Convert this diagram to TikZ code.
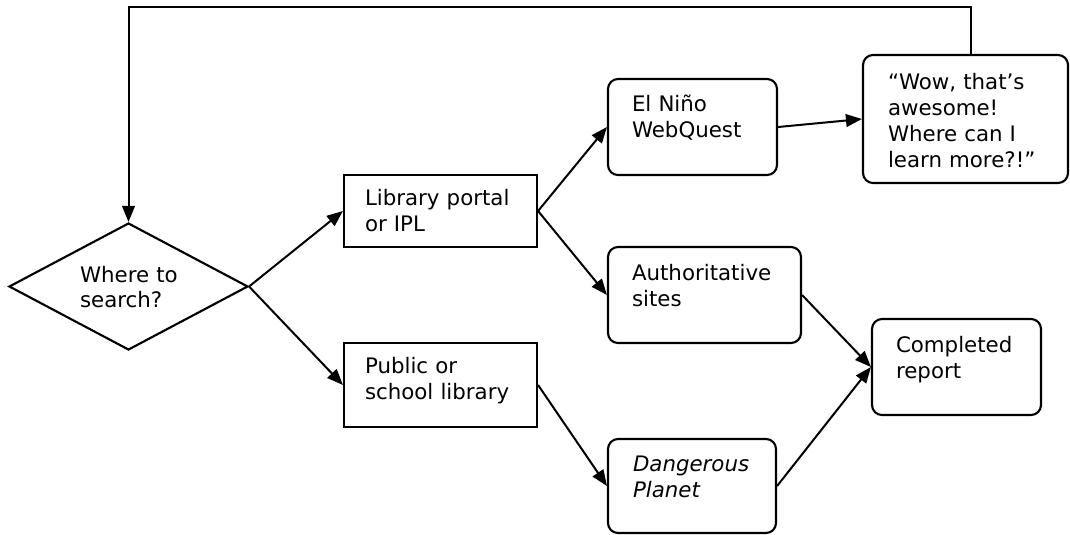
\documentclass[tikz,border=0pt]{standalone}
\usepackage{fontspec}
\setmainfont{DejaVu Sans}
\usetikzlibrary{shapes.geometric,arrows.meta,calc}
\begin{document}
\begin{tikzpicture}[x=0.75pt,y=-0.75pt,
  line width=1.6pt,
  sqbox/.style={draw,rectangle,inner sep=0pt},
  rbox/.style={draw,rectangle,rounded corners=7.5pt,inner sep=0pt},
  lbl/.style={anchor=base west,inner sep=0pt,text width=200pt,align=left,
              font=\fontsize{16}{19.4}\selectfont},
  arr/.style={-{Triangle[length=12pt,width=9.5pt]},line width=1.5pt}]
\useasboundingbox (0,0) rectangle (1070,535);
% shapes
\node[draw,diamond,inner sep=0pt,minimum width=179.25pt,minimum height=95.25pt] (dia) at (128.5,286.5) {};
\node[sqbox,minimum width=144.75pt,minimum height=54pt] (lib) at (440.5,211) {};
\node[sqbox,minimum width=144.75pt,minimum height=63pt] (pub) at (440.5,385) {};
\node[rbox,minimum width=126.75pt,minimum height=72pt] (nino) at (692.5,127) {};
\node[rbox,minimum width=144.75pt,minimum height=72pt] (auth) at (704.5,295) {};
\node[rbox,minimum width=126pt,minimum height=70.5pt] (dang) at (692,486) {};
\node[rbox,minimum width=153.75pt,minimum height=96pt] (wow) at (965.5,119) {};
\node[rbox,minimum width=126.75pt,minimum height=72pt] (comp) at (956.5,367) {};
% texts
\node[lbl] (tdia) at (79,282) {Where to\\search?};
\node[lbl] (tlib) at ($(lib.north west)+(21,32)$) {Library portal\\or IPL};
\node[lbl] (tpub) at ($(pub.north west)+(21,32)$) {Public or\\school library};
\node[lbl] (tnino) at ($(nino.north west)+(24,34)$) {El Niño\\WebQuest};
\node[lbl] (tauth) at ($(auth.north west)+(24,35)$) {Authoritative\\sites};
\node[lbl] (tdang) at ($(dang.north west)+(25,34)$) {\itshape Dangerous\\Planet};
\node[lbl] (twow) at ($(wow.north west)+(25,36)$) {“Wow, that’s\\awesome!\\Where can I\\learn more?!”};
\node[lbl] (tcomp) at ($(comp.north west)+(24,35)$) {Completed\\report};
% connectors
\draw[arr] (dia.east) -- (lib.west);
\draw[arr] (dia.east) -- (pub.west);
\draw[arr] (lib.east) -- (nino.west);
\draw[arr] (lib.east) -- (auth.west);
\draw[arr] (pub.east) -- (dang.west);
\draw[arr] (nino.east) -- (wow.west);
\draw[arr] (auth.east) -- (comp.west);
\draw[arr] (dang.east) -- (comp.west);
\coordinate (fbA) at ($(wow.north)+(5.5,0)$);
\coordinate (fbB) at (971,7);
\coordinate (fbC) at (128.5,7);
\draw[arr] (fbA) -- (fbB) -- (fbC) -- (dia.north);
\end{tikzpicture}
\end{document}
